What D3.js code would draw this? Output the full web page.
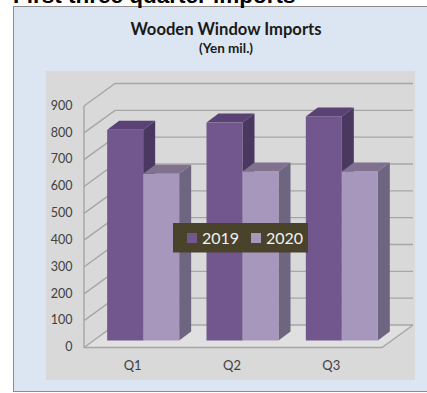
<!DOCTYPE html>
<html><head><meta charset="utf-8">
<style>html,body{margin:0;padding:0;background:#fff}svg{display:block}text{font-family:Lato,"Open Sans",sans-serif}</style>
<script src="https://cdn.jsdelivr.net/npm/d3@7/dist/d3.min.js"></script>
</head><body><svg id="c" width="427" height="393"></svg>
<script>
// Quarterly import values, yen millions
const quarters = ["Q1","Q2","Q3"];
const seriesNames = ["2019","2020"];
const values2019 = [785,812,835];
const values2020 = [621,630,630];
const valueTicks = [0,100,200,300,400,500,600,700,800,900];

const svg = d3.select("#c");
const W = 427, H = 393;

// Page heading and chart panels
svg.append("rect").attr("x",13.5).attr("y",6.5).attr("width",W).attr("height",385)
  .attr("fill","#dce6f2").attr("stroke","#8c8c8c");
svg.append("text").attr("x",13).attr("y",3).attr("font-size",22.5).attr("font-weight",700)
  .style("font-family","Liberation Sans").attr("fill","#000").text("First three quarter imports");
svg.append("rect").attr("x",46).attr("y",71).attr("width",369).attr("height",309).attr("fill","#d9d9d9");

svg.append("text").attr("x",226).attr("y",35).attr("text-anchor","middle").attr("font-size",16.6)
  .attr("font-weight",700).attr("fill","#1a1a1a").text("Wooden Window Imports");
svg.append("text").attr("x",226).attr("y",53).attr("text-anchor","middle").attr("font-size",13.5)
  .attr("font-weight",700).attr("fill","#1a1a1a").text("(Yen mil.)");

// Projection: the front edge of the floor plus a fixed depth offset
const x = d3.scaleBand().domain(quarters).range([84,382]);
const y = d3.scaleLinear().domain([0,900]).range([347.5,106]);
const depth = {dx:31, dy:-22.5};
const barPlane = {dx:9.5, dy:-7};
const barDepth = {dx:12, dy:-9};
const gridColor = "#a6a6a6";

const g = svg.append("g");
const floorRight = x.range()[1];

// Floor
g.append("path").attr("fill","#e0e0e0").attr("stroke","none")
  .attr("d",d3.line()([[84,y(0)],[84+depth.dx,y(0)+depth.dy],[floorRight+depth.dx,y(0)+depth.dy],[floorRight,y(0)]]));

// Wall gridlines running along the side and back
valueTicks.forEach(t=>{
  g.append("path").attr("fill","none").attr("stroke",gridColor).attr("stroke-width",1.4)
   .attr("d",d3.line()([[84,y(t)],[84+depth.dx,y(t)+depth.dy],[floorRight+depth.dx,y(t)+depth.dy]]));
});
g.append("path").attr("fill","none").attr("stroke",gridColor).attr("stroke-width",1.4)
  .attr("d",d3.line()([[84,y(900)],[84,y(0)],[floorRight,y(0)],[floorRight+depth.dx,y(0)+depth.dy]]));

// Bars: side face, top face, front face
const seriesStyle = [
  {values:values2019, front:"#72578f", top:"#5a4274", side:"#4b3860"},
  {values:values2020, front:"#a897bd", top:"#80718f", side:"#6e6580"}
];
const barW = 36;
const groupW = barW*seriesStyle.length;
quarters.forEach((q,i)=>{
  const left = x(q)+(x.bandwidth()-groupW)/2+barPlane.dx;
  seriesStyle.forEach((s,j)=>{
    const x0 = left+j*barW, x1 = x0+barW;
    const b = y(0)+barPlane.dy, t = y(s.values[i])+barPlane.dy;
    const bar = g.append("g");
    bar.append("path").attr("fill",s.side).attr("d",d3.line()([[x1,t],[x1+barDepth.dx,t+barDepth.dy],[x1+barDepth.dx,b+barDepth.dy],[x1,b]]));
    bar.append("path").attr("fill",s.top).attr("d",d3.line()([[x0,t],[x0+barDepth.dx,t+barDepth.dy],[x1+barDepth.dx,t+barDepth.dy],[x1,t]]));
    bar.append("rect").attr("x",x0).attr("y",t).attr("width",barW).attr("height",b-t).attr("fill",s.front);
  });
});

// Value and category labels
svg.append("g").selectAll("text").data(valueTicks).join("text")
  .attr("x",72.5).attr("y",d=>y(d)+0.5).attr("text-anchor","end").attr("dominant-baseline","middle")
  .attr("font-size",12.5).attr("fill","#404040").text(d=>d);
svg.append("g").selectAll("text").data(quarters).join("text")
  .attr("x",d=>x(d)+x.bandwidth()/2-1).attr("y",370).attr("text-anchor","middle")
  .attr("font-size",13).attr("fill","#404040").text(d=>d);

// Legend box
const legend = svg.append("g");
legend.append("rect").attr("x",173).attr("y",223).attr("width",135).attr("height",29.5).attr("fill","#4a432c");
const legendItems = [{x:187,tx:202},{x:251,tx:266}];
seriesNames.forEach((n,i)=>{
  legend.append("rect").attr("x",legendItems[i].x).attr("y",233).attr("width",10).attr("height",10).attr("fill",seriesStyle[i].front);
  legend.append("text").attr("x",legendItems[i].tx).attr("y",244).attr("font-size",16).attr("fill","#f2f2f2").text(n);
});
</script></body></html>
